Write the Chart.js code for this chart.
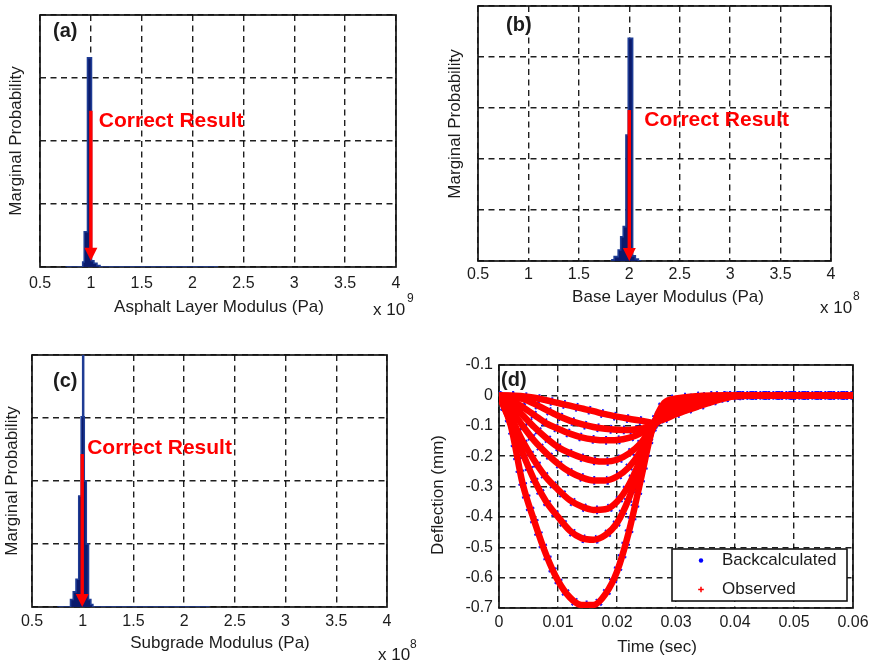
<!DOCTYPE html>
<html>
<head>
<meta charset="utf-8">
<script src="https://cdn.jsdelivr.net/npm/chart.js@4/dist/chart.umd.min.js"></script>
<style>
  html, body { margin: 0; padding: 0; background: #fff; }
  #fig { position: relative; width: 879px; height: 665px; overflow: hidden; background: #fff; }
  #fig canvas { position: absolute; }
</style>
</head>
<body>
<div id="fig">
  <canvas id="pa" width="440" height="330" style="left:0;top:0"></canvas>
  <canvas id="pb" width="439" height="330" style="left:440px;top:0"></canvas>
  <canvas id="pc" width="440" height="335" style="left:0;top:330px"></canvas>
  <canvas id="pd" width="454" height="335" style="left:425px;top:330px"></canvas>
</div>
<script>
// ---------- data ----------

// Marginal posterior histograms (bin edges, normalised bin heights)
const asphaltBinEdges = [0.75, 0.92, 0.935, 0.967, 1.006, 1.03, 1.06, 1.09, 2.25]; // x 10^9 Pa
const asphaltProb     = [0, 0.02, 0.14, 0.83, 0.025, 0.015, 0.006, 0];

const baseBinEdges = [1.82, 1.85, 1.89, 1.915, 1.94, 1.967, 1.99, 2.033, 2.06, 2.09, 2.12]; // x 10^8 Pa
const baseProb     = [0.005, 0.017, 0.043, 0.095, 0.135, 0.494, 0.873, 0.02, 0.008, 0];

const subgradeBinEdges = [0.75, 0.88, 0.907, 0.934, 0.961, 0.985, 1.0, 1.009, 1.015, 1.035, 1.057, 1.08, 1.10, 2.25]; // x 10^8 Pa
const subgradeProb     = [0, 0.03, 0.06, 0.11, 0.44, 0.755, 1.3, 0.755, 0.5, 0.25, 0.03, 0.01, 0];

// True (reference) moduli
const asphaltCorrect = 1.0;    // x 10^9 Pa
const baseCorrect = 2.0;       // x 10^8 Pa
const subgradeCorrect = 0.995; // x 10^8 Pa

const asphaltExp = 9;
const baseExp = 8;
const subgradeExp = 8;

const modulusTicks = ['0.5', '1', '1.5', '2', '2.5', '3', '3.5', '4'];

// Deflection time histories (mm), one array per sensor
const timeSec = [0, 0.002, 0.004, 0.006, 0.008, 0.010, 0.012, 0.014, 0.016, 0.018, 0.020, 0.022,
                 0.024, 0.026, 0.028, 0.030, 0.032, 0.034, 0.036, 0.038, 0.040, 0.045, 0.050, 0.055, 0.060];

const defl1 = [0, -0.10, -0.29, -0.415, -0.525, -0.61, -0.665, -0.69, -0.69, -0.655, -0.58, -0.45,
               -0.28, -0.11, -0.025, -0.010, -0.005, -0.002, 0, 0, 0, 0, 0, 0, 0];
const defl2 = [0, -0.09, -0.19, -0.28, -0.35, -0.40, -0.445, -0.47, -0.475, -0.46, -0.42, -0.34,
               -0.23, -0.11, -0.035, -0.018, -0.010, -0.005, -0.002, 0, 0, 0, 0, 0, 0];
const defl3 = [0, -0.07, -0.15, -0.215, -0.27, -0.31, -0.345, -0.366, -0.377, -0.375, -0.35, -0.295,
               -0.21, -0.11, -0.045, -0.027, -0.016, -0.009, -0.004, -0.001, 0, 0, 0, 0, 0];
const defl4 = [0, -0.045, -0.10, -0.15, -0.19, -0.225, -0.252, -0.27, -0.28, -0.28, -0.267, -0.237,
               -0.185, -0.11, -0.052, -0.035, -0.023, -0.014, -0.007, -0.002, 0, 0, 0, 0, 0];
const defl5 = [0, -0.025, -0.065, -0.105, -0.14, -0.17, -0.19, -0.205, -0.215, -0.218, -0.212, -0.192,
               -0.158, -0.105, -0.06, -0.043, -0.030, -0.020, -0.011, -0.004, 0, 0, 0, 0, 0];
const defl6 = [0, -0.014, -0.038, -0.065, -0.092, -0.11, -0.126, -0.138, -0.145, -0.148, -0.147, -0.14,
               -0.125, -0.10, -0.066, -0.05, -0.037, -0.026, -0.015, -0.007, -0.001, 0, 0, 0, 0];
const defl7 = [0, -0.003, -0.012, -0.028, -0.048, -0.067, -0.083, -0.095, -0.104, -0.11, -0.113, -0.114,
               -0.11, -0.10, -0.072, -0.056, -0.043, -0.031, -0.019, -0.009, -0.002, 0, 0, 0, 0];
const defl8 = [0, 0, -0.003, -0.008, -0.016, -0.025, -0.034, -0.043, -0.052, -0.062, -0.07, -0.077,
               -0.083, -0.09, -0.078, -0.062, -0.048, -0.035, -0.022, -0.011, -0.003, 0, 0, 0, 0];

const observedDefl = [defl1, defl2, defl3, defl4, defl5, defl6, defl7, defl8];
// the backcalculated histories coincide with the observed ones to within the line width
const backcalcDefl = observedDefl;

const timeTicks = ['0', '0.01', '0.02', '0.03', '0.04', '0.05', '0.06'];
const deflTicks = ['-0.7', '-0.6', '-0.5', '-0.4', '-0.3', '-0.2', '-0.1', '0', '-0.1'];

// ---------- styling ----------
const FONT = 'Arial, "Liberation Sans", Helvetica, sans-serif';
const INK = '#1c1c1c';
const GRID = 'rgba(0,0,0,0.88)';
const DASH = [6, 4.5];

// plot frame (MATLAB-style box)
const frame = {
  id: 'frame',
  beforeDatasetsDraw(chart) {
    const { ctx, chartArea: a } = chart;
    ctx.save();
    ctx.strokeStyle = '#151515';
    ctx.lineWidth = 1.7;
    ctx.strokeRect(a.left, a.top, a.right - a.left, a.bottom - a.top);
    ctx.restore();
  }
};

// free text (panel letters, axis titles, multipliers)
function makeText(items) {
  return {
    id: 'figText',
    afterDraw(chart) {
      const ctx = chart.ctx;
      for (const t of items) {
        ctx.save();
        ctx.font = t.font;
        ctx.fillStyle = t.color || INK;
        ctx.textAlign = t.align || 'left';
        ctx.textBaseline = 'middle';
        ctx.translate(t.x, t.y);
        if (t.rotate) ctx.rotate(-Math.PI / 2);
        ctx.fillText(t.text, 0, 0);
        ctx.restore();
      }
    }
  };
}

// red arrow marking the true value, with its caption
function makeArrow(cfg) {
  return {
    id: 'trueValue',
    afterDatasetsDraw(chart) {
      const { ctx, scales: { x, y } } = chart;
      const px = x.getPixelForValue(cfg.x);
      const top = y.getPixelForValue(cfg.top);
      const tip = y.getPixelForValue(cfg.tip);
      const headLen = 13, headW = 13, shaft = 3.4;
      ctx.save();
      ctx.fillStyle = '#ff0000';
      ctx.fillRect(px - shaft / 2, top, shaft, tip - headLen - top + 1);
      ctx.beginPath();
      ctx.moveTo(px - headW / 2, tip - headLen);
      ctx.lineTo(px + headW / 2, tip - headLen);
      ctx.lineTo(px, tip);
      ctx.closePath();
      ctx.fill();
      ctx.font = 'bold 21px ' + FONT;
      ctx.textAlign = 'left';
      ctx.textBaseline = 'middle';
      ctx.fillText(cfg.label, px + cfg.dx, top + cfg.dy);
      ctx.restore();
    }
  };
}

// each bin height holds from its left edge to the next edge
function stepData(edges, heights) {
  return edges.map((e, i) => ({ x: e, y: i < heights.length ? heights[i] : 0 }));
}

function gridOpts() {
  return { color: GRID, lineWidth: 1.4, drawTicks: false };
}

function histogram(id, edges, probs, yStep, arrow, texts, lay) {
  new Chart(document.getElementById(id), {
    type: 'line',
    data: {
      datasets: [{
        data: stepData(edges, probs),
        stepped: 'before',
        fill: 'origin',
        backgroundColor: '#0b1a6c',
        borderColor: '#1f3c94',
        borderWidth: 1.6,
        pointRadius: 0
      }]
    },
    options: {
      responsive: false,
      animation: false,
      events: [],
      layout: { padding: { top: lay.top, right: lay.right, left: 0, bottom: 0 } },
      plugins: { legend: { display: false }, tooltip: { enabled: false } },
      scales: {
        x: {
          type: 'linear', min: 0.5, max: 4,
          ticks: {
            stepSize: 0.5, autoSkip: false, maxRotation: 0, padding: lay.tickPad,
            color: INK, font: { family: FONT, size: 16 },
            callback: (v, i) => modulusTicks[i]
          },
          grid: gridOpts(),
          border: { display: false, dash: DASH },
          afterFit: s => { s.height = lay.xh; }
        },
        y: {
          type: 'linear', min: 0, max: 1,
          ticks: { display: false, stepSize: yStep },
          grid: gridOpts(),
          border: { display: false, dash: DASH },
          afterFit: s => { s.width = lay.yw; }
        }
      }
    },
    plugins: [frame, makeArrow(arrow), makeText(texts)]
  });
}

const TITLE = '17px ' + FONT;
const LETTER = 'bold 20px ' + FONT;
const MULT = '17px ' + FONT;
const SUP = '12px ' + FONT;

// (a) asphalt layer
histogram('pa', asphaltBinEdges, asphaltProb, 0.25,
  { x: asphaltCorrect, top: 0.62, tip: 0.025, label: 'Correct Result', dx: 8, dy: 10 },
  [
    { text: '(a)', x: 53, y: 31, font: LETTER },
    { text: 'Marginal Probability', x: 16, y: 141, font: TITLE, align: 'center', rotate: true },
    { text: 'Asphalt Layer Modulus (Pa)', x: 219, y: 307, font: TITLE, align: 'center' },
    { text: 'x 10', x: 373, y: 310, font: MULT },
    { text: String(asphaltExp), x: 407, y: 299, font: SUP }
  ],
  { top: 15, right: 44, yw: 40, xh: 63, tickPad: 7 });

// (b) base layer
histogram('pb', baseBinEdges, baseProb, 0.2,
  { x: baseCorrect, top: 0.592, tip: 0, label: 'Correct Result', dx: 15, dy: 10 },
  [
    { text: '(b)', x: 66, y: 25, font: LETTER },
    { text: 'Marginal Probability', x: 15, y: 124, font: TITLE, align: 'center', rotate: true },
    { text: 'Base Layer Modulus (Pa)', x: 228, y: 297, font: TITLE, align: 'center' },
    { text: 'x 10', x: 380, y: 308, font: MULT },
    { text: String(baseExp), x: 413, y: 297, font: SUP }
  ],
  { top: 6, right: 48, yw: 38, xh: 69, tickPad: 4 });

// (c) subgrade
histogram('pc', subgradeBinEdges, subgradeProb, 0.25,
  { x: subgradeCorrect, top: 0.607, tip: 0, label: 'Correct Result', dx: 5, dy: -6 },
  [
    { text: '(c)', x: 53, y: 51, font: LETTER },
    { text: 'Marginal Probability', x: 12, y: 151, font: TITLE, align: 'center', rotate: true },
    { text: 'Subgrade Modulus (Pa)', x: 220, y: 313, font: TITLE, align: 'center' },
    { text: 'x 10', x: 378, y: 325, font: MULT },
    { text: String(subgradeExp), x: 410, y: 315, font: SUP }
  ],
  { top: 25, right: 53, yw: 32, xh: 58, tickPad: 5 });

// (d) deflection histories
const deflSets = [];
observedDefl.forEach(c => {
  deflSets.push({
    label: 'Observed', kind: 'obs',
    data: timeSec.map((t, i) => ({ x: t, y: c[i] })),
    borderColor: '#ff0000', borderWidth: 6.5, pointRadius: 0,
    cubicInterpolationMode: 'monotone', order: 0
  });
});
backcalcDefl.forEach(c => {
  deflSets.push({
    label: 'Backcalculated', kind: 'bc',
    data: timeSec.map((t, i) => ({ x: t, y: c[i] })),
    borderColor: '#1414ff', borderWidth: 8.8, borderDash: [2, 11], pointRadius: 0,
    cubicInterpolationMode: 'monotone', order: 1
  });
});

const deflLegend = {
  id: 'deflLegend',
  afterDraw(chart) {
    const { ctx, chartArea: a } = chart;
    const bc = chart.data.datasets.find(d => d.kind === 'bc');
    const ob = chart.data.datasets.find(d => d.kind === 'obs');
    const w = 175, h = 52;
    const L = a.right - 6 - w, T = a.bottom - 7 - h;
    ctx.save();
    ctx.fillStyle = '#fff';
    ctx.fillRect(L, T, w, h);
    ctx.strokeStyle = '#151515';
    ctx.lineWidth = 1.6;
    ctx.strokeRect(L, T, w, h);
    const mx = L + 29, tx = L + 50, r1 = T + 11.5, r2 = T + 40.5;
    ctx.fillStyle = '#0000ff';
    ctx.beginPath(); ctx.arc(mx, r1, 2.2, 0, Math.PI * 2); ctx.fill();
    ctx.strokeStyle = '#ff0000'; ctx.lineWidth = 1.5;
    ctx.beginPath(); ctx.moveTo(mx - 2.8, r2); ctx.lineTo(mx + 2.8, r2);
    ctx.moveTo(mx, r2 - 2.8); ctx.lineTo(mx, r2 + 2.8); ctx.stroke();
    ctx.fillStyle = INK;
    ctx.font = '17px ' + FONT;
    ctx.textAlign = 'left';
    ctx.textBaseline = 'middle';
    ctx.fillText(bc.label, tx, r1);
    ctx.fillText(ob.label, tx, r2);
    ctx.restore();
  }
};

new Chart(document.getElementById('pd'), {
  type: 'line',
  data: { datasets: deflSets },
  options: {
    responsive: false,
    animation: false,
    events: [],
    layout: { padding: { top: 35, right: 26, left: 0, bottom: 0 } },
    plugins: { legend: { display: false }, tooltip: { enabled: false } },
    scales: {
      x: {
        type: 'linear', min: 0, max: 0.06,
        ticks: {
          stepSize: 0.01, autoSkip: false, maxRotation: 0, padding: 5,
          color: INK, font: { family: FONT, size: 16 },
          callback: (v, i) => timeTicks[i]
        },
        grid: gridOpts(),
        border: { display: false, dash: DASH },
        afterFit: s => { s.height = 57; }
      },
      y: {
        type: 'linear', min: -0.7, max: 0.1,
        ticks: {
          stepSize: 0.1, autoSkip: false, padding: 6,
          color: INK, font: { family: FONT, size: 16 },
          callback: (v, i) => deflTicks[i]
        },
        grid: gridOpts(),
        border: { display: false, dash: DASH },
        afterFit: s => { s.width = 74; }
      }
    }
  },
  plugins: [frame, deflLegend, makeText([
    { text: '(d)', x: 76, y: 50, font: LETTER },
    { text: 'Deflection (mm)', x: 13, y: 165, font: TITLE, align: 'center', rotate: true },
    { text: 'Time (sec)', x: 232, y: 317, font: TITLE, align: 'center' }
  ])]
});
</script>
</body>
</html>
